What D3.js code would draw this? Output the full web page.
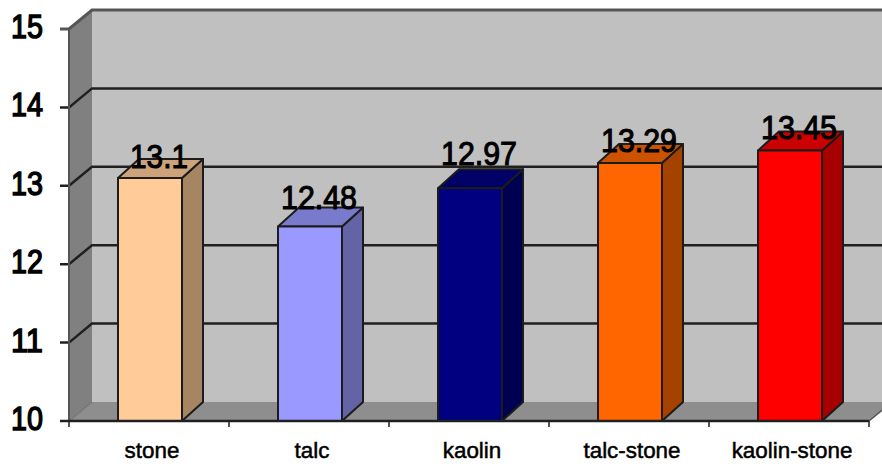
<!DOCTYPE html>
<html>
<head>
<meta charset="utf-8">
<script src="https://d3js.org/d3.v7.min.js"></script>
<style>
  html, body { margin: 0; padding: 0; background: #fff; }
  svg { display: block; }
  text { font-family: "Liberation Sans", Arial, sans-serif; fill: #000; }
</style>
</head>
<body>
<div id="chart"></div>
<script>
var categories = ["stone", "talc", "kaolin", "talc-stone", "kaolin-stone"];
var values = [13.1, 12.48, 12.97, 13.29, 13.45];
var barColors = ["#FFCC99", "#9999FF", "#000080", "#FF6600", "#FF0000"];
var yTicks = [10, 11, 12, 13, 14, 15];

var width = 882, height = 466;

// Plot box of the front plane, the walls sit behind it by depth
var plot = { left: 69, right: 869, top: 29, bottom: 421 };
var depth = { x: 23, y: 19 };
var barDepth = { x: 21, y: 19 };

var x = d3.scaleBand().domain(categories).range([plot.left + 1, plot.right + 1])
  .paddingInner(0.6).paddingOuter(0.3);
var y = d3.scaleLinear().domain([10, 15]).range([plot.bottom, plot.top]);

// Labels don't sit evenly above the bars
var labelDy = { "stone": -10, "talc": -18, "kaolin": -23, "talc-stone": -11, "kaolin-stone": -12 };

var svg = d3.select("#chart").append("svg")
  .attr("width", width)
  .attr("height", height);

function poly(points) {
  return points.map(function(p) { return p.join(","); }).join(" ");
}

function shade(color, k) {
  var c = d3.rgb(color);
  return d3.rgb(c.r * k, c.g * k, c.b * k).formatHex();
}

// Back wall, left wall and floor
svg.append("polygon")
  .attr("points", poly([
    [plot.left + depth.x, plot.top - depth.y],
    [width + 2, plot.top - depth.y],
    [width + 2, plot.bottom - depth.y],
    [plot.left + depth.x, plot.bottom - depth.y]
  ]))
  .attr("fill", "#c0c0c0");

svg.append("polygon")
  .attr("points", poly([
    [plot.left, plot.top],
    [plot.left + depth.x, plot.top - depth.y],
    [plot.left + depth.x, plot.bottom - depth.y],
    [plot.left, plot.bottom]
  ]))
  .attr("fill", "#808080");

svg.append("polygon")
  .attr("points", poly([
    [plot.left, plot.bottom],
    [plot.left + depth.x, plot.bottom - depth.y],
    [plot.right + depth.x, plot.bottom - depth.y],
    [plot.right, plot.bottom]
  ]))
  .attr("fill", "#8e8e8e");

svg.append("polygon")
  .attr("points", poly([
    [plot.right, plot.bottom],
    [plot.right + depth.x, plot.bottom - depth.y],
    [width + 2, plot.bottom - depth.y],
    [width + 2, plot.bottom]
  ]))
  .attr("fill", "#fff");

// Grid lines wrap from the left wall onto the back wall
var grid = svg.append("g").attr("class", "grid");

yTicks.filter(function(d) { return d > 10; }).forEach(function(d) {
  var top = d === 15;
  grid.append("polyline")
    .attr("points", poly([
      [plot.left - 9, y(d)],
      [plot.left, y(d)],
      [plot.left + depth.x, y(d) - depth.y],
      [width + 2, y(d) - depth.y]
    ]))
    .attr("fill", "none")
    .attr("stroke", top ? "#555" : "#202020")
    .attr("stroke-width", top ? 3 : 2.5);
});

// Wall edges
svg.append("line")
  .attr("x1", plot.left).attr("x2", plot.left)
  .attr("y1", plot.top).attr("y2", plot.bottom)
  .attr("stroke", "#555").attr("stroke-width", 2);

svg.append("line")
  .attr("x1", plot.left).attr("x2", plot.left + depth.x)
  .attr("y1", plot.bottom).attr("y2", plot.bottom - depth.y)
  .attr("stroke", "#777").attr("stroke-width", 1.5);

svg.append("line")
  .attr("x1", plot.right).attr("x2", plot.right + depth.x)
  .attr("y1", plot.bottom).attr("y2", plot.bottom - depth.y)
  .attr("stroke", "#555").attr("stroke-width", 1.5);

// Bars: side and top faces first, then the front
var bars = svg.selectAll(".bar")
  .data(categories)
  .enter()
  .append("g")
  .attr("class", "bar");

bars.append("polygon")
  .attr("points", function(d, i) {
    var r = x(d) + x.bandwidth();
    return poly([
      [r, y(values[i])],
      [r + barDepth.x, y(values[i]) - barDepth.y],
      [r + barDepth.x, plot.bottom - barDepth.y],
      [r, plot.bottom]
    ]);
  })
  .attr("fill", function(d, i) { return shade(barColors[i], 0.65); });

bars.append("polygon")
  .attr("points", function(d, i) {
    var l = x(d), r = l + x.bandwidth();
    return poly([
      [l, y(values[i])],
      [l + barDepth.x, y(values[i]) - barDepth.y],
      [r + barDepth.x, y(values[i]) - barDepth.y],
      [r, y(values[i])]
    ]);
  })
  .attr("fill", function(d, i) { return shade(barColors[i], 0.8); });

bars.append("rect")
  .attr("x", function(d) { return x(d); })
  .attr("y", function(d, i) { return y(values[i]); })
  .attr("width", x.bandwidth())
  .attr("height", function(d, i) { return plot.bottom - y(values[i]); })
  .attr("fill", function(d, i) { return barColors[i]; });

bars.selectAll("polygon, rect")
  .attr("stroke", "#1c1c1c")
  .attr("stroke-width", 2)
  .attr("stroke-linejoin", "round");

// Value labels
svg.selectAll(".value")
  .data(categories)
  .enter()
  .append("text")
  .attr("class", "value")
  .attr("x", function(d) { return x(d) + x.bandwidth() / 2 + 9; })
  .attr("y", function(d, i) { return y(values[i]) + labelDy[d]; })
  .attr("text-anchor", "middle")
  .attr("font-size", "34px")
  .attr("stroke", "#000")
  .attr("stroke-width", 1.1)
  .attr("textLength", function(d, i) { return String(values[i]).length === 4 ? 58 : 76; })
  .attr("lengthAdjust", "spacingAndGlyphs")
  .text(function(d, i) { return values[i]; });

// Bottom axis, ticks sit between the categories
var xEdges = d3.range(categories.length + 1).map(function(i) {
  return plot.left + i * x.step();
});

svg.append("line")
  .attr("x1", plot.left - 9).attr("x2", plot.right)
  .attr("y1", plot.bottom).attr("y2", plot.bottom)
  .attr("stroke", "#202020").attr("stroke-width", 2.5);

svg.selectAll(".x-tick")
  .data(xEdges)
  .enter()
  .append("line")
  .attr("class", "x-tick")
  .attr("x1", function(d) { return d; })
  .attr("x2", function(d) { return d; })
  .attr("y1", plot.bottom)
  .attr("y2", plot.bottom + 6)
  .attr("stroke", "#202020")
  .attr("stroke-width", 1.5);

svg.selectAll(".x-label")
  .data(categories)
  .enter()
  .append("text")
  .attr("class", "x-label")
  .attr("x", function(d) { return x(d) + x.bandwidth() / 2 + 2; })
  .attr("y", 458)
  .attr("text-anchor", "middle")
  .attr("font-size", "22.4px")
  .attr("stroke", "#000")
  .attr("stroke-width", 0.5)
  .text(function(d) { return d; });

// Y axis labels
svg.selectAll(".y-label")
  .data(yTicks)
  .enter()
  .append("text")
  .attr("class", "y-label")
  .attr("x", 43)
  .attr("y", function(d) { return y(d) + 9; })
  .attr("text-anchor", "end")
  .attr("font-size", "33px")
  .attr("stroke", "#000")
  .attr("stroke-width", 1.4)
  .attr("textLength", 32)
  .attr("lengthAdjust", "spacingAndGlyphs")
  .text(function(d) { return d; });
</script>
</body>
</html>
